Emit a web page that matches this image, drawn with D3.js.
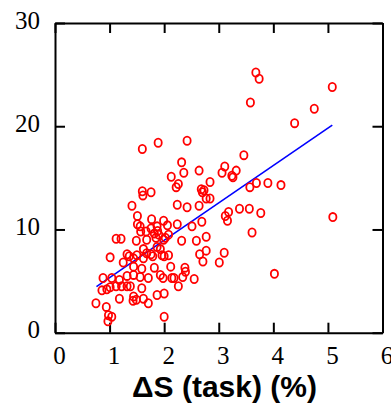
<!DOCTYPE html>
<html>
<head>
<meta charset="utf-8">
<script src="https://cdn.jsdelivr.net/npm/d3@7"></script>
<style>
  html, body { margin: 0; padding: 0; background: #fff; }
  svg { display: block; }
  .tick text { font-family: "Liberation Serif", "DejaVu Serif", serif; font-size: 25px; }
  .axis-title { font-family: "Liberation Sans", Arial, sans-serif; font-weight: bold; font-size: 30px; }
</style>
</head>
<body>
<svg id="chart" width="391" height="404"></svg>
<script>
// ΔS (task) in % against the response measure
const deltaS = [
  3.68, 3.74, 5.08, 3.58, 4.75, 4.39, 3.46, 3.11, 2.64, 3.06,
  3.32, 3.24, 3.26, 2.84, 3.57, 3.69, 3.90, 4.14, 2.68, 2.73,
  2.70, 2.77, 2.84, 2.42, 1.60, 1.89, 2.32, 2.36, 2.13, 2.22,
  2.26, 1.60, 1.61, 1.76, 2.24, 2.42, 2.64, 3.18, 3.12, 3.16,
  3.38, 3.56, 3.77, 2.69, 2.51, 2.24, 5.09, 3.61, 2.77, 2.59,
  3.10, 2.77, 2.65, 2.71, 3.01, 4.02, 2.55, 2.32, 2.38, 2.39,
  2.34, 2.18, 2.26, 1.41, 1.51, 1.77, 1.51, 1.99, 1.87, 2.06,
  1.56, 1.12, 1.21, 1.49, 1.62, 1.68, 1.85, 1.90, 1.82, 1.99,
  2.02, 2.08, 1.01, 1.32, 1.36, 1.44, 1.50, 1.62, 1.68, 1.76,
  1.79, 1.93, 1.96, 1.87, 2.00, 2.08, 1.25, 1.44, 1.59, 1.82,
  2.12, 0.88, 1.04, 1.18, 1.32, 1.44, 1.56, 1.71, 1.93, 1.98,
  2.14, 0.86, 0.95, 1.01, 1.12, 1.22, 1.32, 1.18, 1.38, 1.59,
  1.44, 1.43, 1.49, 1.62, 1.71, 1.87, 2.00, 0.75, 0.94, 0.98,
  1.04, 0.97, 2.00, 1.57, 1.67, 1.76, 1.88
];
const response = [
  25.2, 24.6, 23.8, 22.3, 21.7, 20.3, 17.2, 16.1, 15.7, 15.5,
  15.7, 15.2, 15.05, 14.6, 14.1, 14.5, 14.5, 14.3, 13.9, 13.8,
  13.6, 13.0, 13.0, 18.6, 17.8, 18.4, 16.5, 15.5, 15.1, 14.1,
  14.4, 13.7, 13.3, 13.6, 12.4, 12.15, 12.3, 11.7, 11.3, 10.85,
  12.0, 12.0, 11.6, 10.75, 10.3, 10.5, 11.2, 9.7, 9.3, 8.9,
  7.75, 7.95, 7.6, 6.9, 6.8, 5.7, 5.2, 8.9, 6.3, 5.9,
  5.4, 5.3, 4.5, 12.3, 11.3, 11.0, 10.5, 10.85, 10.3, 10.4,
  10.3, 9.1, 9.1, 8.9, 8.1, 9.0, 9.2, 9.5, 9.6, 9.0,
  9.2, 9.5, 7.3, 7.6, 7.4, 7.2, 7.5, 7.2, 7.7, 7.6,
  7.4, 8.1, 7.5, 8.3, 7.4, 7.5, 6.8, 6.4, 6.2, 6.3,
  6.4, 5.3, 5.3, 5.1, 5.5, 5.6, 5.4, 5.3, 5.6, 5.3,
  5.3, 4.1, 4.2, 4.4, 4.5, 4.5, 4.5, 3.3, 4.5, 4.3,
  3.5, 3.1, 3.2, 3.3, 2.85, 3.65, 3.8, 2.85, 2.5, 1.7,
  1.55, 1.1, 1.55, 9.8, 9.8, 10.1, 9.85
];

// Least-squares fit line end points
const fitX = [0.76, 5.08];
const fitY = [4.46, 20.1];

const xTicks = [0, 1, 2, 3, 4, 5, 6];
const yTicks = [0, 10, 20, 30];

const svg = d3.select("#chart");
const plotLeft = 55, plotRight = 382.5, plotTop = 23, plotBottom = 332.7;

const x = d3.scaleLinear().domain([0, 6]).range([plotLeft, plotRight]);
const y = d3.scaleLinear().domain([0, 30]).range([plotBottom, plotTop]);

// Axes with inward ticks on all four sides
const gB = svg.append("g").attr("transform", `translate(0,${plotBottom})`)
  .call(d3.axisBottom(x).tickValues(xTicks).tickFormat(d3.format("d"))
    .tickSizeInner(-10).tickSizeOuter(0).tickPadding(14));
const gT = svg.append("g").attr("transform", `translate(0,${plotTop})`)
  .call(d3.axisTop(x).tickValues(xTicks).tickFormat("")
    .tickSizeInner(-10).tickSizeOuter(0));
const gL = svg.append("g").attr("transform", `translate(${plotLeft},0)`)
  .call(d3.axisLeft(y).tickValues(yTicks).tickFormat(d3.format("d"))
    .tickSizeInner(-10).tickSizeOuter(0).tickPadding(15));
const gR = svg.append("g").attr("transform", `translate(${plotRight},0)`)
  .call(d3.axisRight(y).tickValues(yTicks).tickFormat("")
    .tickSizeInner(-10).tickSizeOuter(0));

[gB, gT, gL, gR].forEach(g => {
  g.attr("font-family", null).attr("font-size", null);
  g.select(".domain").attr("stroke", "#000").attr("stroke-width", 2);
  g.selectAll(".tick line").attr("stroke", "#000").attr("stroke-width", 2);
  g.selectAll(".tick text").attr("fill", "#000");
});
gB.selectAll(".tick text").attr("dx", 4);
gL.selectAll(".tick text").attr("dy", "0.2em");

// Fitted trend line
svg.append("path")
  .datum(fitX.map((d, i) => [d, fitY[i]]))
  .attr("fill", "none")
  .attr("stroke", "#0000ff")
  .attr("stroke-width", 1.6)
  .attr("d", d3.line().x(d => x(d[0])).y(d => y(d[1])));

// Individual observations
svg.append("g")
  .selectAll("ellipse")
  .data(deltaS.map((d, i) => [d, response[i]]))
  .join("ellipse")
  .attr("cx", d => x(d[0]))
  .attr("cy", d => y(d[1]))
  .attr("rx", 3.6)
  .attr("ry", 4.1)
  .attr("fill", "none")
  .attr("stroke", "#ff0000")
  .attr("stroke-width", 1.8);

// X axis title
svg.append("text")
  .attr("class", "axis-title")
  .attr("x", 224.5)
  .attr("y", 397)
  .attr("text-anchor", "middle")
  .text("ΔS (task) (%)");
</script>
</body>
</html>
